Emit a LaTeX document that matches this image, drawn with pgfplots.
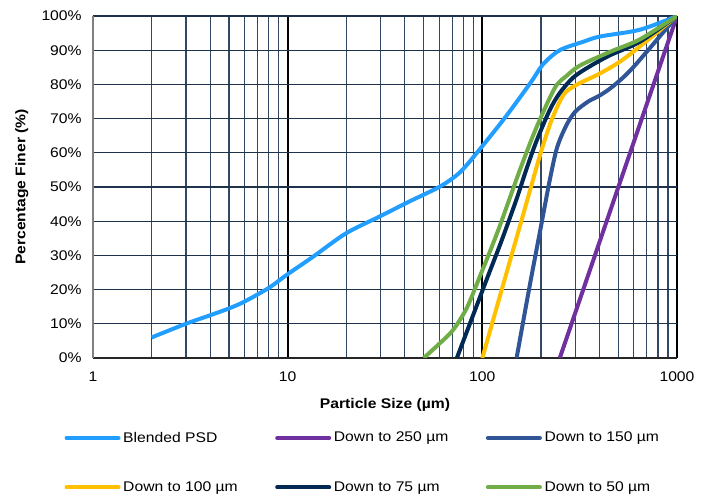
\documentclass[border=0pt]{standalone}
\usepackage{pgfplots}
\pgfplotsset{compat=1.18}
\usepackage{fontspec}
\setmainfont{Liberation Sans}[FakeStretch=1.12]
\definecolor{cBlend}{RGB}{33,158,255}
\definecolor{cPurple}{RGB}{112,48,160}
\definecolor{cSlate}{RGB}{47,85,151}
\definecolor{cYellow}{RGB}{255,192,0}
\definecolor{cNavy}{RGB}{0,42,84}
\definecolor{cGreen}{RGB}{112,173,71}
\definecolor{cGrid}{RGB}{30,50,75}
\definecolor{cMinor}{RGB}{50,72,98}
\begin{document}
\begin{tikzpicture}
\path[use as bounding box] (-69.75pt,-102.75pt) rectangle (460.5pt,268.5pt);
\begin{axis}[
  at={(0,0)}, anchor=south west,
  scale only axis, width=438pt, height=256.5pt,
  xmode=log, xmin=1, xmax=1000, ymin=0, ymax=100,
  /pgf/number format/assume math mode=true,
  xtick={1,10,100,1000}, xticklabels={1,10,100,1000},
  minor xtick={2,3,4,5,6,7,8,9,20,30,40,50,60,70,80,90,200,300,400,500,600,700,800,900},
  ytick={0,10,...,100},
  yticklabels={0\%,10\%,20\%,30\%,40\%,50\%,60\%,70\%,80\%,90\%,100\%},
  major tick length=0pt, minor tick length=0pt,
  tick label style={font=\fontsize{10.5}{12}\selectfont},
  yticklabel style={xshift=-5pt},
  xticklabel style={yshift=-7pt},
  xmajorgrids, xminorgrids, ymajorgrids,
  x grid style={draw=black, line width=1.3pt},
  y grid style={draw=cGrid, line width=0.8pt},
  minor x grid style={draw=cMinor, line width=0.95pt},
  axis x line*=bottom, axis y line*=left,
  x axis line style={draw=black!85, line width=1pt, -},
  y axis line style={draw=gray, line width=1pt, -},
  xlabel={\textbf{Particle Size (µm)}},
  ylabel={\textbf{Percentage Finer (\%)}},
  label style={font=\fontsize{10.5}{12}\selectfont},
  xlabel style={at={(axis description cs:0.5,-0.137)}, anchor=center},
  ylabel style={at={(axis description cs:-0.122,0.5)}, anchor=center},
  legend style={draw=none, fill=none, at={(axis description cs:-0.056,-0.20)}, anchor=north west,
    font=\fontsize{10.5}{12}\selectfont, row sep=24pt,
    /tikz/every odd column/.append style={column sep=0pt}},
  legend columns=3,
  legend cell align=left,
  legend image code/.code={\draw[#1, line width=3pt, line cap=round] (0pt,0pt) -- (39pt,0pt);},
  every axis plot/.append style={line width=3pt, smooth, tension=0.5, mark=none},
]
\addplot[cBlend] coordinates {(2,6) (3,10) (4,12.5) (5,14.5) (6,16.5) (8,20.5) (10,24.5) (13.5,29.6) (20,36.5) (30,41.5) (42,45.7) (60,50) (74,53.5) (86,57.4) (128,69.6) (176,80.3) (206,86) (250,90) (331,92.5) (402,94) (646,96) (1000,100)};
\addlegendentry{\makebox[112pt][l]{Blended PSD}}
\addplot[cPurple] coordinates {(250,0) (500,50) (1000,100)};
\addlegendentry{\makebox[112pt][l]{Down to 250 µm}}
\addplot[cSlate] coordinates {(150,0) (175,21) (200,38.4) (222,52) (242,61.5) (270,68) (300,72) (350,75) (402,76.8) (470,79.5) (596,85) (1000,100)};
\addlegendentry{\makebox[112pt][l]{Down to 150 µm}}
\addplot[cYellow] coordinates {(100,0) (125,19.4) (150,35.2) (175,48.6) (200,60.2) (225,69) (250,75) (271,78) (320,80.5) (402,83.2) (550,88) (1000,100)};
\addlegendentry{Down to 100 µm}
\addplot[cNavy] coordinates {(74,0) (105,22.8) (125,34) (150,46.5) (168,55) (190,63.5) (222,72.5) (250,77.5) (293,82) (350,85) (452,88.5) (646,92.5) (1000,100)};
\addlegendentry{Down to 75 µm}
\addplot[cGreen] coordinates {(50,0) (61,4.5) (71,8.3) (83,14.5) (95,22.5) (120,37) (156,55) (190,67.5) (236,79) (271,82.5) (317,85.5) (452,89.5) (646,93.2) (1000,100)};
\addlegendentry{Down to 50 µm}
\end{axis}
\end{tikzpicture}
\end{document}
